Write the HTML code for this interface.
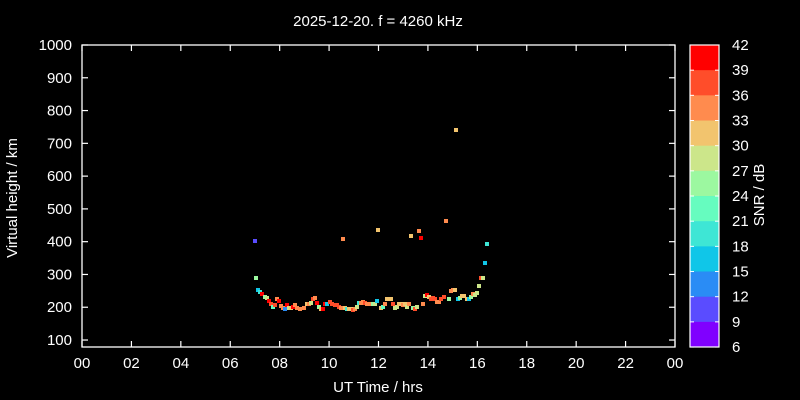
<!DOCTYPE html>
<html><head><meta charset="utf-8"><style>
html,body{margin:0;padding:0;background:#000;}
svg{display:block;font-family:"Liberation Sans",sans-serif;}
</style></head><body>
<svg id="s" width="800" height="400" xmlns="http://www.w3.org/2000/svg">
<rect width="800" height="400" fill="#000"/>
<text x="378" y="26" fill="#fff" font-size="15" text-anchor="middle">2025-12-20. f = 4260 kHz</text>
<g id="pts"></g>
<rect x="82" y="45" width="593" height="302" fill="none" stroke="#fff" stroke-width="1.3"/>
<g id="ax" stroke="#fff" stroke-width="1.2"></g>
<g id="lab" fill="#fff" font-size="15"></g>
<text x="378" y="392" fill="#fff" font-size="15" text-anchor="middle">UT Time / hrs</text>
<text transform="translate(17,198) rotate(-90)" fill="#fff" font-size="15" text-anchor="middle">Virtual height / km</text>
<g id="cb"></g>
<text transform="translate(764,195) rotate(-90)" fill="#fff" font-size="15" text-anchor="middle">SNR / dB</text>
</svg>
<script>
var NS="http://www.w3.org/2000/svg";
function el(p,t,a,txt){var e=document.createElementNS(NS,t);for(var k in a)e.setAttribute(k,a[k]);if(txt!=null)e.textContent=txt;document.getElementById(p).appendChild(e);}
function Y(v){return 45+(1000-v)*0.3278;}
for(var v=100;v<=1000;v+=100){var y=Y(v);
 el("ax","line",{x1:82,y1:y,x2:88,y2:y});el("ax","line",{x1:675,y1:y,x2:669,y2:y});
 el("lab","text",{x:72,y:y+5,"text-anchor":"end"},String(v));}
for(var h=0;h<=24;h+=2){var x=82+h*593/24;var hh=h%24;
 el("ax","line",{x1:x,y1:347,x2:x,y2:341});el("ax","line",{x1:x,y1:45,x2:x,y2:51});
 el("lab","text",{x:x,y:368,"text-anchor":"middle"},(hh<10?"0":"")+hh);}
var cols=["#ff0000","#ff4d2a","#ff8b4e","#f2c46e","#cce68a","#9cf8a0","#66fcbf","#3ee6d5","#10c6e8","#2a8cf5","#5a4cff","#8000ff"];
for(var i=0;i<12;i++){el("cb","rect",{x:690,y:45+i*25.17,width:29,height:25.5,fill:cols[i]});}
el("cb","rect",{x:690,y:45,width:29,height:302,fill:"none",stroke:"#fff","stroke-width":1.2});
for(var i=0;i<=12;i++){var y=45+i*25.17;
 el("cb","line",{x1:690,y1:y,x2:694,y2:y,stroke:"#fff"});el("cb","line",{x1:719,y1:y,x2:715,y2:y,stroke:"#fff"});
 el("cb","text",{x:732,y:y+5,fill:"#fff","font-size":15},String(42-3*i));}
var C={r:"#ff0000",ro:"#ff4d2a",o:"#ff8b4e",y:"#f2c46e",lg:"#cce68a",g:"#9cf8a0",cg:"#66fcbf",c:"#3ee6d5",cb:"#10c6e8",b:"#2a8cf5",p:"#5a4cff"};
var P=[[256,278,"g"],[258,290,"cb"],[260,292,"c"],[262,294,"r"],[265,297,"g"],[267,298,"lg"],[269,301,"r"],[271,304,"ro"],[273,307,"cg"],[275,305,"ro"],[277,299,"o"],[279,301,"r"],[281,306,"o"],[283,308,"o"],[285,309,"b"],[287,305,"r"],[289,308,"lg"],[291,308,"y"],[293,307,"r"],[295,305,"o"],[297,308,"o"],[300,309,"o"],[304,308,"o"],[307,304,"y"],[309,304,"o"],[311,303,"lg"],[313,299,"ro"],[315,298,"o"],[317,303,"r"],[319,307,"g"],[321,309,"y"],[323,309,"r"],[325,304,"r"],[327,304,"cb"],[330,302,"ro"],[332,304,"ro"],[335,305,"ro"],[337,305,"ro"],[339,307,"ro"],[341,308,"o"],[345,308,"y"],[347,309,"c"],[349,309,"y"],[351,309,"y"],[353,310,"ro"],[355,309,"o"],[357,307,"lg"],[359,303,"c"],[361,303,"o"],[363,302,"o"],[365,303,"ro"],[367,304,"o"],[370,304,"o"],[373,304,"g"],[375,304,"lg"],[377,301,"cb"],[381,308,"y"],[383,307,"cg"],[385,304,"o"],[387,299,"y"],[389,299,"y"],[391,299,"y"],[393,304,"ro"],[395,308,"lg"],[397,307,"lg"],[399,304,"y"],[401,304,"y"],[403,305,"o"],[405,304,"y"],[407,307,"lg"],[409,304,"o"],[413,308,"g"],[415,309,"ro"],[417,307,"lg"],[423,304,"o"],[425,296,"lg"],[427,295,"r"],[429,297,"y"],[431,299,"ro"],[433,298,"ro"],[435,299,"ro"],[437,302,"o"],[439,302,"o"],[441,299,"ro"],[444,297,"ro"],[449,299,"g"],[451,291,"o"],[453,290,"o"],[455,290,"y"],[458,299,"cb"],[460,298,"g"],[462,296,"y"],[464,296,"y"],[467,299,"y"],[469,299,"cb"],[471,297,"g"],[473,294,"o"],[475,295,"lg"],[477,293,"lg"],[479,286,"lg"],[481,278,"ro"],[483,278,"lg"],[485,263,"cb"],[487,244,"c"],
[255,241,"p"],[343,239,"o"],[378,230,"y"],[411,236,"y"],[419,231,"o"],[421,238,"r"],[446,221,"o"],[456,130,"y"]];
P.forEach(function(p){el("pts","rect",{x:p[0]-2,y:p[1]-2,width:4,height:4,fill:C[p[2]]});});
</script>
</body></html>
